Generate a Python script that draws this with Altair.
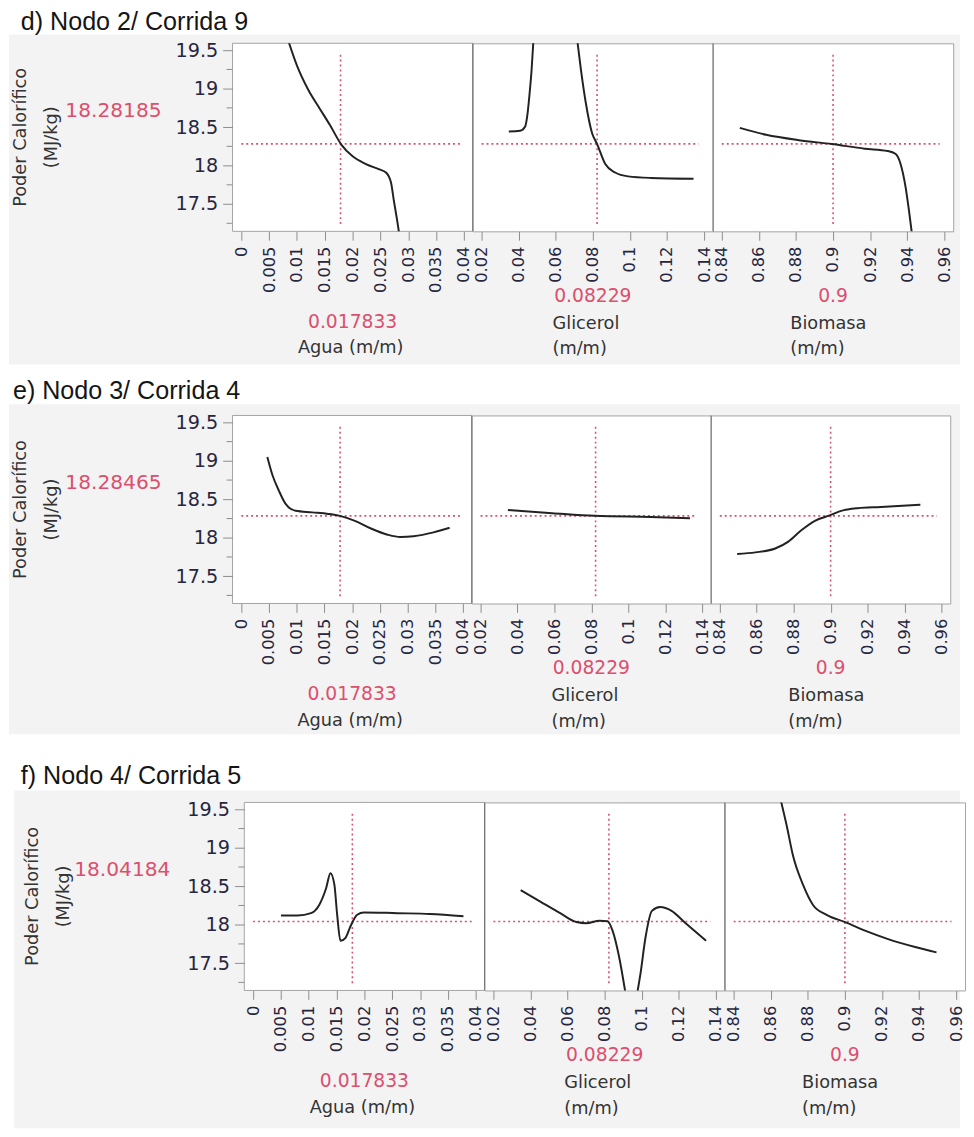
import altair as alt
import pandas as pd

# ------------------------------------------------------------------ data
SECTION_TITLES = ["d) Nodo 2/ Corrida 9", "e) Nodo 3/ Corrida 4", "f) Nodo 4/ Corrida 5"]
PRED_LABELS = ["18.28185", "18.28465", "18.04184"]
PRED_VALUES = [18.28185, 18.28465, 18.04184]
Y_TITLE = ["Poder Calorífico", "(MJ/kg)"]
FACTOR_TITLES = [["Agua (m/m)"], ["Glicerol", "(m/m)"], ["Biomasa", "(m/m)"]]
FACTOR_LABELS = ["0.017833", "0.08229", "0.9"]
FACTOR_VALUES = [0.017833, 0.08229, 0.9]

Y_TICKS = [17.5, 18, 18.5, 19, 19.5]
Y_MINOR = [17.25, 17.75, 18.25, 18.75, 19.25]
X_TICKS_AGUA = [0, 0.005, 0.01, 0.015, 0.02, 0.025, 0.03, 0.035, 0.04]
X_TICKS_GLIC = [0.02, 0.04, 0.06, 0.08, 0.1, 0.12, 0.14]
X_TICKS_BIO = [0.84, 0.86, 0.88, 0.9, 0.92, 0.94, 0.96]
CROSS_X_SPAN = [[0, 0.0395], [0.02, 0.137], [0.84, 0.9575]]
CROSS_Y_SPAN = [17.24, 19.45]

# d) Nodo 2 / Corrida 9
d_agua_x = [0.0085, 0.0100, 0.0120, 0.0141, 0.0159, 0.0180, 0.0200, 0.0224, 0.0248, 0.0260, 0.0269, 0.0274, 0.0280, 0.0284]
d_agua_y = [19.61, 19.30, 18.99, 18.74, 18.53, 18.27, 18.12, 18.02, 17.95, 17.91, 17.78, 17.55, 17.29, 17.10]
d_glic_x1 = [0.0347, 0.0408, 0.0435, 0.0447, 0.0458, 0.0470, 0.0479]
d_glic_y1 = [18.444, 18.453, 18.509, 18.659, 18.915, 19.256, 19.61]
d_glic_x2 = [0.0717, 0.0735, 0.0761, 0.0796, 0.0823, 0.0867, 0.0920, 0.0990, 0.1112, 0.1343]
d_glic_y2 = [19.61, 19.26, 18.83, 18.42, 18.28, 18.02, 17.91, 17.86, 17.84, 17.83]
d_bio_x = [0.8497, 0.8639, 0.8816, 0.8993, 0.9170, 0.9294, 0.9338, 0.9364, 0.9391, 0.9409, 0.9426]
d_bio_y = [18.49, 18.40, 18.33, 18.28, 18.22, 18.19, 18.15, 18.02, 17.72, 17.42, 17.10]

# e) Nodo 3 / Corrida 4
e_agua_x = [0.0047, 0.0056, 0.0068, 0.0080, 0.0098, 0.0128, 0.0157, 0.0178, 0.0205, 0.0234, 0.0264, 0.0287, 0.0311, 0.0347, 0.0376]
e_agua_y = [19.05, 18.82, 18.61, 18.44, 18.35, 18.33, 18.31, 18.285, 18.22, 18.12, 18.04, 18.01, 18.02, 18.07, 18.13]
e_glic_x = [0.0348, 0.0588, 0.0818, 0.1120, 0.1334]
e_glic_y = [18.36, 18.32, 18.285, 18.27, 18.255]
e_bio_x = [0.8494, 0.8593, 0.8700, 0.8771, 0.8843, 0.8915, 0.8995, 0.9057, 0.9147, 0.9272, 0.9486]
e_bio_y = [17.79, 17.81, 17.86, 17.95, 18.10, 18.22, 18.29, 18.35, 18.385, 18.40, 18.43]

# f) Nodo 4 / Corrida 5
f_agua_x = [0.0050, 0.0080, 0.0104, 0.0119, 0.0131, 0.0139, 0.0146, 0.0151, 0.0157, 0.0166, 0.0175, 0.0187, 0.0199, 0.0259, 0.0318, 0.0378]
f_agua_y = [18.12, 18.12, 18.15, 18.26, 18.47, 18.67, 18.52, 18.13, 17.79, 17.83, 17.98, 18.13, 18.16, 18.15, 18.14, 18.11]
f_glic_x1 = [0.0347, 0.0453, 0.0560, 0.0648, 0.0701, 0.0772, 0.0816, 0.0843, 0.0878, 0.0913]
f_glic_y1 = [18.45, 18.30, 18.15, 18.035, 18.02, 18.05, 18.045, 17.92, 17.58, 17.10]
f_glic_x2 = [0.0975, 0.0993, 0.1020, 0.1055, 0.1099, 0.1161, 0.1232, 0.1347]
f_glic_y2 = [17.10, 17.36, 17.83, 18.18, 18.23, 18.18, 18.03, 17.79]
f_bio_x = [0.8655, 0.8686, 0.8720, 0.8774, 0.8827, 0.8899, 0.9005, 0.9112, 0.9237, 0.9379, 0.9494]
f_bio_y = [19.61, 19.29, 18.90, 18.52, 18.26, 18.13, 18.03, 17.92, 17.81, 17.71, 17.64]

CURVES = [
    [[(d_agua_x, d_agua_y)], [(d_glic_x1, d_glic_y1), (d_glic_x2, d_glic_y2)], [(d_bio_x, d_bio_y)]],
    [[(e_agua_x, e_agua_y)], [(e_glic_x, e_glic_y)], [(e_bio_x, e_bio_y)]],
    [[(f_agua_x, f_agua_y)], [(f_glic_x1, f_glic_y1), (f_glic_x2, f_glic_y2)], [(f_bio_x, f_bio_y)]],
]
X_TICKS = [X_TICKS_AGUA, X_TICKS_GLIC, X_TICKS_BIO]

# ------------------------------------------------------------------ style / layout
FONT = "DejaVu Sans"
TITLE_FONT = "Liberation Sans"
RED = "#dc4f6d"
CURVE = "#222222"
TICK_LABEL = "#26263e"
TEXT = "#333333"
TICK = "#8c8c8c"
BORDER = "#a3a3a3"
DIVIDER = "#767676"
BG = "#f3f3f3"
H = 191
Y_DOMAIN = [17.145, 19.59]
X_DOMAINS = [[-0.00159, 0.04159], [0.01522, 0.14478], [0.83522, 0.96478]]

LAYOUT = [
    dict(W=244, ext=34.7, gtop=-9, gbot=H + 135.3, gleft=-227, gright=739,
         tx=-215, ty=-13.2, predx=-72, shift=0),
    dict(W=243, ext=50.3, gtop=-11.3, gbot=H + 132.7, gleft=-227, gright=739,
         tx=-223, ty=-16.6, predx=-72, shift=0),
    dict(W=244, ext=67, gtop=-12, gbot=H + 140, gleft=-234, gright=727,
         tx=-227, ty=-19, predx=-75, shift=12),
]
TITLE_LEFT = [None, 81, 78.5]

one = pd.DataFrame({"a": [0]})


def panel(s, k):
    g = LAYOUT[s]
    W = g["W"]
    xaxis = alt.Axis(values=X_TICKS[k], format="~g", labelAngle=270, labelFont=FONT,
                     labelFontSize=16.5, labelColor=TICK_LABEL, tickColor=TICK, tickSize=9,
                     labelPadding=6, domain=False, grid=False, title=None,
                     labelOverlap=False, labelFlush=False, zindex=1)
    if k == 0:
        yaxis = alt.Axis(values=Y_TICKS, format="~g", labelFont=FONT, labelFontSize=19.5,
                         labelColor=TICK_LABEL, tickColor=TICK, tickSize=10, labelPadding=5,
                         domain=False, grid=False, title=None, labelOverlap=False,
                         labelFlush=False, zindex=1)
    else:
        yaxis = None

    def xe(f):
        return alt.X(f, type="quantitative",
                     scale=alt.Scale(domain=X_DOMAINS[k], nice=False, zero=False), axis=xaxis)

    def ye(f):
        return alt.Y(f, type="quantitative",
                     scale=alt.Scale(domain=Y_DOMAIN, nice=False, zero=False), axis=yaxis)

    rows = []
    for si, (xs, ys) in enumerate(CURVES[s][k]):
        for xv, yv in zip(xs, ys):
            rows.append({"x": xv, "y": yv, "seg": si})
    cdf = pd.DataFrame(rows)

    layers = []
    if k == 0:
        layers.append(alt.Chart(one).mark_rect(color="white").encode(
            x=alt.value(g["gleft"]), x2=alt.value(g["gright"]),
            y=alt.value(-g["ext"]), y2=alt.value(g["gtop"])))
        layers.append(alt.Chart(one).mark_rect(color=BG).encode(
            x=alt.value(g["gleft"]), x2=alt.value(g["gright"]),
            y=alt.value(g["gtop"]), y2=alt.value(g["gbot"])))
        layers.append(alt.Chart(one).mark_rect(fill="white", stroke=BORDER, strokeWidth=1).encode(
            x=alt.value(0), x2=alt.value(W), y=alt.value(0), y2=alt.value(H)))
    else:
        layers.append(alt.Chart(one).mark_rule(color=DIVIDER, strokeWidth=1).encode(
            x=alt.value(0), y=alt.value(0), y2=alt.value(H)))

    hr = pd.DataFrame({"x": [CROSS_X_SPAN[k][0]], "x2": [CROSS_X_SPAN[k][1]], "y": [PRED_VALUES[s]]})
    vr = pd.DataFrame({"x": [FACTOR_VALUES[k]], "y": [CROSS_Y_SPAN[0]], "y2": [CROSS_Y_SPAN[1]]})
    layers.append(alt.Chart(hr).mark_rule(color=RED, strokeDash=[2, 3], strokeWidth=1.6).encode(
        x=xe("x"), x2="x2", y=ye("y")))
    layers.append(alt.Chart(vr).mark_rule(color=RED, strokeDash=[2, 3], strokeWidth=1.6).encode(
        x=xe("x"), y=ye("y"), y2="y2"))
    layers.append(alt.Chart(cdf).mark_line(clip=True, color=CURVE, strokeWidth=2,
                                           interpolate="monotone").encode(
        x=xe("x"), y=ye("y"), detail="seg:N"))

    if k == 0:
        layers.append(alt.Chart(pd.DataFrame({"v": Y_MINOR})).mark_rule(color=TICK, strokeWidth=1).encode(
            x=alt.value(-6), x2=alt.value(0), y=ye("v")))
        layers.append(alt.Chart(one).mark_text(text=SECTION_TITLES[s], font=TITLE_FONT, fontSize=25.5,
                                               color="#151515", align="left", baseline="alphabetic").encode(
            x=alt.value(g["tx"]), y=alt.value(g["ty"])))
        layers.append(alt.Chart(one).mark_text(text=Y_TITLE[0], font=FONT, fontSize=18, color=TEXT,
                                               angle=270, align="center", baseline="middle").encode(
            x=alt.value(-215), y=alt.value(H / 2)))
        layers.append(alt.Chart(one).mark_text(text=Y_TITLE[1], font=FONT, fontSize=18, color=TEXT,
                                               angle=270, align="center", baseline="middle").encode(
            x=alt.value(-183), y=alt.value(H / 2)))
        layers.append(alt.Chart(one).mark_text(text=PRED_LABELS[s], font=FONT, fontSize=20.5, color=RED,
                                               align="right", baseline="middle").encode(
            x=alt.value(g["predx"]), y=alt.value(69)))
        layers.append(alt.Chart(one).mark_text(text=FACTOR_LABELS[k], font=FONT, fontSize=19, color=RED,
                                               align="center", baseline="middle").encode(
            x=alt.value(W / 2), y=alt.value(H + 92)))
        layers.append(alt.Chart(one).mark_text(text=FACTOR_TITLES[k][0], font=FONT, fontSize=18, color=TEXT,
                                               align="center", baseline="middle").encode(
            x=alt.value(W / 2 - 2), y=alt.value(H + 119)))
    else:
        layers.append(alt.Chart(one).mark_text(text=FACTOR_LABELS[k], font=FONT, fontSize=19, color=RED,
                                               align="center", baseline="middle").encode(
            x=alt.value(W / 2), y=alt.value(H + 66)))
        for li, line in enumerate(FACTOR_TITLES[k]):
            layers.append(alt.Chart(one).mark_text(text=line, font=FONT, fontSize=18, color=TEXT,
                                                   align="left", baseline="middle").encode(
                x=alt.value(TITLE_LEFT[k]), y=alt.value(H + 94 + 26 * li)))

    return alt.layer(*layers).properties(width=W, height=H)


sections = []
for s in range(3):
    panels = [panel(s, k) for k in range(3)]
    if LAYOUT[s]["shift"]:
        dummy = alt.Chart(one).mark_point(opacity=0).properties(width=LAYOUT[s]["shift"], height=H)
        panels = [dummy] + panels
    sections.append(alt.hconcat(*panels, spacing=0, bounds="flush"))

chart = alt.vconcat(*sections, spacing=0).properties(
    padding={"left": 0, "top": -9, "right": 0, "bottom": 0}, background="white"
).configure_view(fill="white", stroke=BORDER, strokeWidth=1)

chart.save("out.html", embed_options={"renderer": "svg", "actions": False})
